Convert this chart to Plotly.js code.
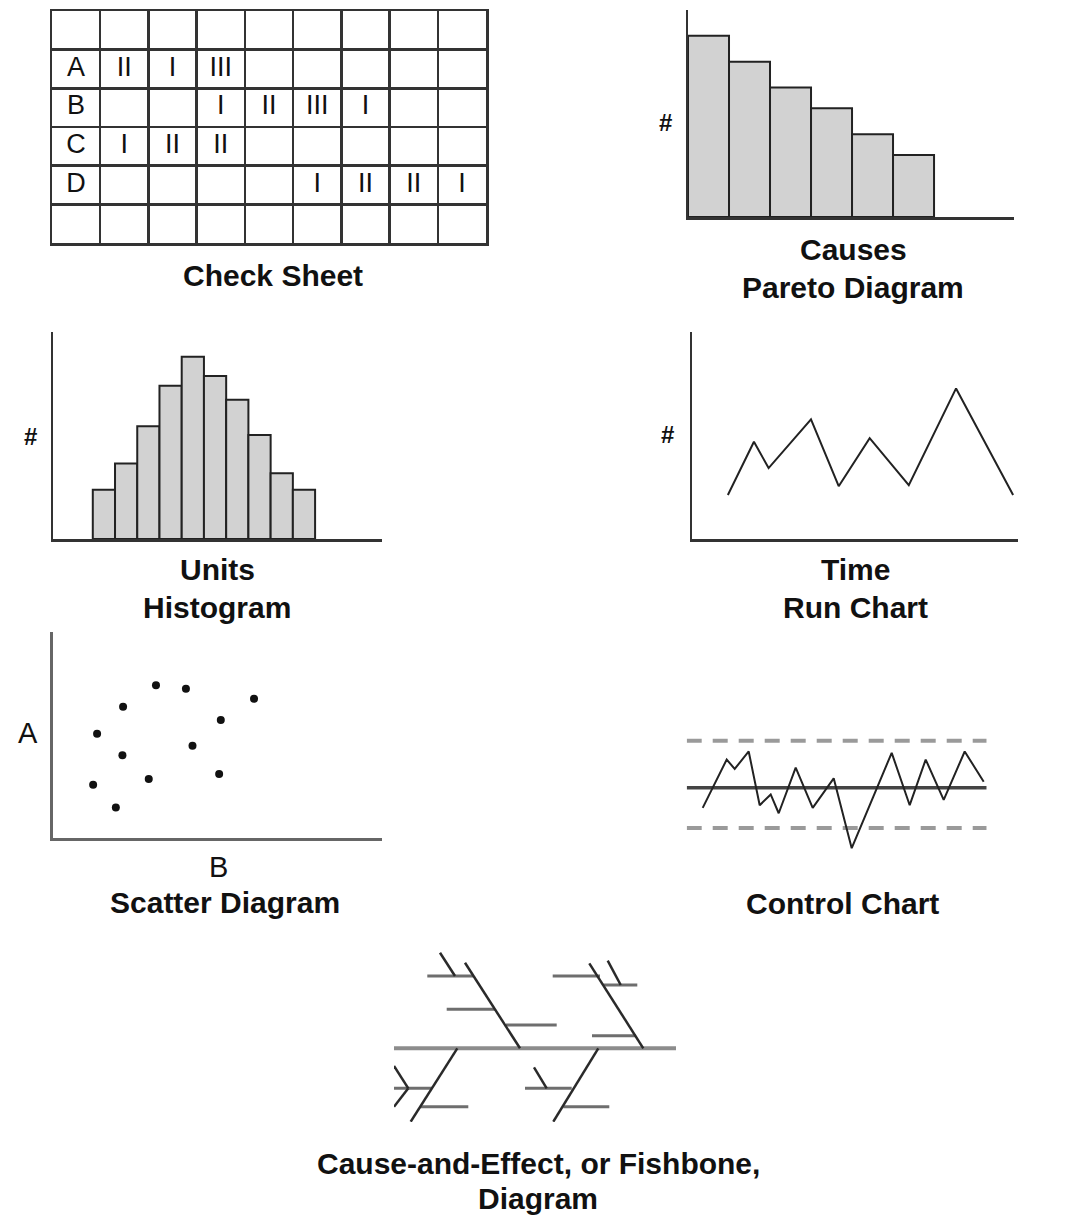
<!DOCTYPE html>
<html><head><meta charset="utf-8">
<script src="https://cdn.plot.ly/plotly-3.0.1.min.js"></script>
<style>html,body{margin:0;padding:0;background:#fff}</style>
</head><body>
<div id="chart" style="width:1065px;height:1216px"></div>
<script>
// ---------- DATA ----------
const checkRowLabels = ['A', 'B', 'C', 'D'];
const checkTallies = [
  [2, 1, 3, 0, 0, 0, 0, 0],
  [0, 0, 1, 2, 3, 1, 0, 0],
  [1, 2, 2, 0, 0, 0, 0, 0],
  [0, 0, 0, 0, 1, 2, 2, 1]
];
const paretoValues = [35, 30, 25, 21, 16, 12];
const histValues = [9.5, 14.6, 21.8, 29.6, 35.2, 31.5, 26.9, 20.1, 12.7, 9.5];
const runTimes = [2.2, 3.8, 4.7, 7.3, 9.0, 10.9, 13.3, 16.2, 19.7];
const runValues = [8.5, 18.8, 13.7, 23.1, 10.2, 19.5, 10.4, 29.1, 8.5];
const scatterB = [3.13, 4.04, 2.13, 6.11, 1.34, 5.10, 2.11, 4.24, 1.22, 2.91, 5.05, 1.91];
const scatterA = [7.41, 7.24, 6.37, 6.76, 5.06, 5.73, 4.02, 4.48, 2.58, 2.86, 3.11, 1.48];
const controlX = [1.6, 4.0, 4.8, 6.2, 7.3, 8.4, 9.2, 10.9, 12.6, 14.7, 16.5, 20.5, 22.3, 23.9, 25.7, 27.8, 29.7];
const controlY = [-1.5, 2.1, 1.4, 2.7, -1.3, -0.5, -1.9, 1.5, -1.5, 0.7, -4.5, 2.6, -1.3, 2.1, -0.9, 2.7, 0.45];
const controlUCL = 3.5, controlCL = 0, controlLCL = -3;
// fishbone segments [x1, y1, x2, y2]
const fishSpine = [[0, 0, 282, 0]];
const fishBones = [
  [71, 85.6, 126, 0], [46, 95.6, 61, 72.3],
  [195.3, 85, 249.3, 0], [213.7, 87.6, 226.7, 63.3],
  [63.3, 0, 16.7, -73.4], [0, -17.7, 14.3, -40], [14.3, -40, 0, -58.4],
  [204.3, 0, 159.3, -73.4], [140, -19, 152.7, -40]
];
const fishRibs = [
  [33.3, 72.3, 79.3, 72.3], [52.7, 39, 101, 39], [112, 23.3, 162.7, 23.3],
  [158.7, 72.3, 206, 72.3], [209.3, 63.3, 243.3, 63.3], [198, 12.6, 242, 12.6],
  [0, -40, 37.7, -40], [26, -58.4, 74.3, -58.4],
  [131, -40, 177.7, -40], [169.3, -58.4, 215.3, -58.4]
];
const boldTitles = [
  ['Check Sheet', 273, 275], ['Causes', 853, 249], ['Pareto Diagram', 853, 287],
  ['Units', 217, 569], ['Histogram', 217, 607], ['Time', 855, 569], ['Run Chart', 855, 607],
  ['Scatter Diagram', 225, 902], ['Control Chart', 842, 903],
  ['Cause-and-Effect, or Fishbone,', 538, 1163], ['Diagram', 538, 1198]
];

// ---------- HELPERS ----------
const W = 1065, H = 1216;
const FONT = 'Liberation Sans, Arial, Helvetica, sans-serif';
const xd = (a, b) => [a / W, b / W];
const yd = (bottom, top) => [1 - bottom / H, 1 - top / H];
function segs(list) {
  const x = [], y = [];
  list.forEach(s => { x.push(s[0], s[2], null); y.push(s[1], s[3], null); });
  return {x, y};
}
function ax(domain, range, anchor, opts) {
  return Object.assign({
    domain, range, anchor, autorange: false, showgrid: false, zeroline: false,
    showticklabels: false, ticks: '', showline: false, fixedrange: true
  }, opts || {});
}
const axLine = {showline: true, linecolor: '#333', linewidth: 2.5};

// ---------- TRACES ----------
const traces = [];
// Check sheet text
const csx = [], csy = [], cst = [];
checkRowLabels.forEach((lab, r) => {
  csx.push(0.5); csy.push(r + 1.5); cst.push(lab);
  checkTallies[r].forEach((n, c) => {
    if (n > 0) { csx.push(c + 1.5); csy.push(r + 1.5); cst.push('I'.repeat(n)); }
  });
});
traces.push({type: 'scatter', mode: 'text', x: csx, y: csy, text: cst, xaxis: 'x', yaxis: 'y',
  textfont: {family: FONT, size: 27, color: '#111'}, hoverinfo: 'skip', showlegend: false});
// Pareto
traces.push({type: 'bar', x: paretoValues.map((_, i) => i), y: paretoValues, width: 1,
  xaxis: 'x2', yaxis: 'y2', marker: {color: '#d2d2d2', line: {color: '#222', width: 2}},
  hoverinfo: 'skip', showlegend: false});
// Histogram
traces.push({type: 'bar', x: histValues.map((_, i) => i + 1), y: histValues, width: 1,
  xaxis: 'x3', yaxis: 'y3', marker: {color: '#d2d2d2', line: {color: '#222', width: 2}},
  hoverinfo: 'skip', showlegend: false});
// Run chart
traces.push({type: 'scatter', mode: 'lines', x: runTimes, y: runValues, xaxis: 'x4', yaxis: 'y4',
  line: {color: '#222', width: 2}, hoverinfo: 'skip', showlegend: false});
// Scatter
traces.push({type: 'scatter', mode: 'markers', x: scatterB, y: scatterA, xaxis: 'x5', yaxis: 'y5',
  marker: {color: '#111', size: 8}, hoverinfo: 'skip', showlegend: false});
// Control chart
[controlUCL, controlLCL].forEach(v => {
  traces.push({type: 'scatter', mode: 'lines', x: [0, 30], y: [v, v], xaxis: 'x6', yaxis: 'y6',
    line: {color: '#9a9a9a', width: 4, dash: '15px,11px'}, hoverinfo: 'skip', showlegend: false});
});
traces.push({type: 'scatter', mode: 'lines', x: [0, 30], y: [controlCL, controlCL], xaxis: 'x6', yaxis: 'y6',
  line: {color: '#444', width: 3.5}, hoverinfo: 'skip', showlegend: false});
traces.push({type: 'scatter', mode: 'lines', x: controlX, y: controlY, xaxis: 'x6', yaxis: 'y6',
  line: {color: '#222', width: 2}, hoverinfo: 'skip', showlegend: false});
// Fishbone
const sp = segs(fishSpine), rb = segs(fishRibs), bn = segs(fishBones);
traces.push({type: 'scatter', mode: 'lines', x: sp.x, y: sp.y, xaxis: 'x7', yaxis: 'y7',
  line: {color: '#8c8c8c', width: 4}, hoverinfo: 'skip', showlegend: false});
traces.push({type: 'scatter', mode: 'lines', x: rb.x, y: rb.y, xaxis: 'x7', yaxis: 'y7',
  line: {color: '#6e6e6e', width: 3}, hoverinfo: 'skip', showlegend: false});
traces.push({type: 'scatter', mode: 'lines', x: bn.x, y: bn.y, xaxis: 'x7', yaxis: 'y7',
  line: {color: '#2a2a2a', width: 2.5}, hoverinfo: 'skip', showlegend: false});

// ---------- ANNOTATIONS ----------
const ann = [];
const base = {xref: 'paper', yref: 'paper', xanchor: 'center', yanchor: 'middle', showarrow: false};
boldTitles.forEach(([t, x, y]) => ann.push(Object.assign({}, base, {text: '<b>' + t + '</b>',
  x: x / W, y: 1 - y / H, font: {family: FONT, size: 30, color: '#111'}})));
[['#', 665, 123], ['#', 30, 436], ['#', 667, 435]].forEach(([t, x, y]) => ann.push(Object.assign({}, base, {
  text: '<b>' + t + '</b>', x: x / W, y: 1 - y / H, font: {family: FONT, size: 24, color: '#111'}})));
[['A', 28, 733], ['B', 218, 867]].forEach(([t, x, y]) => ann.push(Object.assign({}, base, {
  text: t, x: x / W, y: 1 - y / H, font: {family: FONT, size: 29, color: '#111'}})));
[['UCL', controlUCL], ['LCL', controlLCL]].forEach(([t, v]) => ann.push({text: t, x: 31.2, y: v,
  xref: 'x6', yref: 'y6', xanchor: 'left', yanchor: 'middle', showarrow: false,
  font: {family: FONT, size: 29, color: '#111'}}));

// ---------- LAYOUT ----------
const layout = {
  width: W, height: H, margin: {l: 0, r: 0, t: 0, b: 0}, autosize: false,
  paper_bgcolor: '#fff', plot_bgcolor: 'rgba(0,0,0,0)', showlegend: false,
  bargap: 0,
  xaxis: ax(xd(52, 486), [0, 9], 'y', {showgrid: true, dtick: 1, tick0: 0, tickmode: 'linear',
    gridcolor: '#333', gridwidth: 2.5, showline: true, mirror: true, linecolor: '#333', linewidth: 2.5}),
  yaxis: ax(yd(243, 11), [6, 0], 'x', {showgrid: true, dtick: 1, tick0: 0, tickmode: 'linear',
    gridcolor: '#333', gridwidth: 2.5, showline: true, mirror: true, linecolor: '#333', linewidth: 2.5}),
  xaxis2: ax(xd(688, 1014), [-0.5, 7.45], 'y2', axLine),
  yaxis2: ax(yd(217, 10), [0, 40], 'x2', axLine),
  xaxis3: ax(xd(53, 382), [-1.29, 13.51], 'y3', axLine),
  yaxis3: ax(yd(539, 332), [0, 40], 'x3', axLine),
  xaxis4: ax(xd(692, 1018), [0, 20], 'y4', axLine),
  yaxis4: ax(yd(539, 332), [0, 40], 'x4', axLine),
  xaxis5: ax(xd(53, 382), [0, 10], 'y5', {showline: true, linecolor: '#666', linewidth: 3}),
  yaxis5: ax(yd(838, 632), [0, 10], 'x5', {showline: true, linecolor: '#666', linewidth: 3}),
  xaxis6: ax(xd(686.7, 986.7), [0, 30], 'y6'),
  yaxis6: ax(yd(854.9, 727.3), [-5, 4.5], 'x6'),
  xaxis7: ax(xd(394, 676), [0, 282], 'y7'),
  yaxis7: ax(yd(1122, 952), [-73.7, 96.3], 'x7'),
  annotations: ann
};

Plotly.newPlot('chart', traces, layout, {staticPlot: true, displayModeBar: false});
</script>
</body></html>
